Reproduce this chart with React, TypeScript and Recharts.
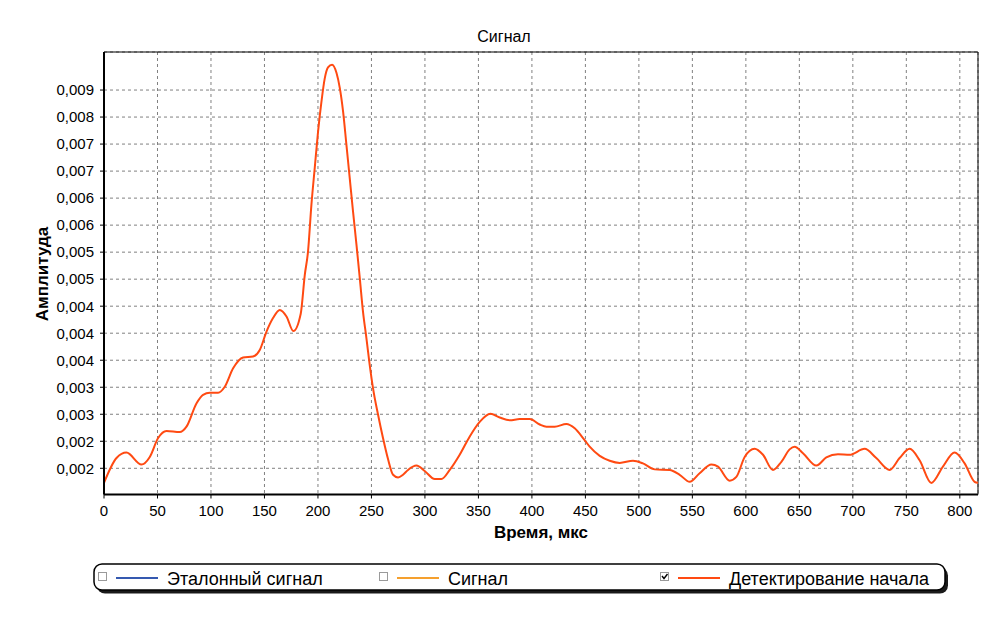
import React from 'react';
import { LineChart, Line, XAxis, YAxis, CartesianGrid, ReferenceArea, Legend } from 'recharts';

// ---- data (time, µs) ----
const times = [
  0, 11.7, 21, 35, 42.8, 50.6, 58.4, 70.8, 77.1, 86.4, 92.6, 98.9, 106.6, 112.9, 120.7, 130, 139.3, 145.6,
  151.9, 158, 164.3, 170.6, 177, 183.9, 187.7, 190.7, 193.9, 197, 200.1, 203.3, 206.4, 209.4, 213.2, 217.3,
  220.4, 223.5, 226.6, 229.7, 232.8, 236, 239.1, 242.1, 245.3, 248.4, 251.5, 256.2, 260.8, 265.5, 270.2,
  274.9, 279.5, 284.2, 292.1, 299.8, 309.2, 315.4, 323.2, 332.5, 341.9, 351.2, 361.2, 369.9, 379.3, 388.6,
  398, 407.3, 413.6, 421.3, 432.2, 440, 447.8, 454, 463.4, 472.7, 482.1, 494.5, 503.8, 514.8, 528.8, 538.1,
  547.5, 556.8, 567.8, 574, 584.9, 591.1, 598.9, 608.2, 616, 625.3, 633.2, 640.9, 645.6, 653.4, 665.9, 675.2,
  686.1, 697, 711, 721.9, 734.4, 743.7, 753.1, 762.4, 773.4, 784.2, 795.1, 804.5, 813.8, 817,
];

// ---- data (amplitude, "Детектирование начала") ----
const detection = [
  0.00143, 0.00189, 0.00199, 0.00177, 0.00191, 0.00226, 0.00239, 0.00237, 0.00247, 0.0029, 0.00306, 0.0031,
  0.0031, 0.00321, 0.00355, 0.00375, 0.00377, 0.00389, 0.00423, 0.00448, 0.00463, 0.00451, 0.00424, 0.00456,
  0.00528, 0.00571, 0.00658, 0.00726, 0.00793, 0.00849, 0.00892, 0.00912, 0.00917, 0.00902, 0.00874, 0.0083,
  0.00769, 0.00707, 0.00645, 0.00584, 0.00522, 0.0046, 0.00411, 0.00361, 0.00318, 0.00269, 0.00226, 0.00187,
  0.00158, 0.00153, 0.00158, 0.00167, 0.00175, 0.00165, 0.0015, 0.0015, 0.00167, 0.00195, 0.00229, 0.00256,
  0.00271, 0.00264, 0.00259, 0.00261, 0.00261, 0.00251, 0.00247, 0.00247, 0.00252, 0.00244, 0.00226, 0.0021,
  0.00193, 0.00184, 0.0018, 0.00184, 0.00179, 0.00168, 0.00167, 0.00158, 0.00145, 0.00161, 0.00177, 0.00173,
  0.00147, 0.00154, 0.00191, 0.00206, 0.00195, 0.00167, 0.00182, 0.00205, 0.0021, 0.00198, 0.00175, 0.0019,
  0.00196, 0.00195, 0.00206, 0.00189, 0.00167, 0.00189, 0.00206, 0.00185, 0.00143, 0.00173, 0.00199, 0.00179,
  0.00145, 0.00143,
];

// ---- axes ----
const xTicks = [0, 50, 100, 150, 200, 250, 300, 350, 400, 450, 500, 550, 600, 650, 700, 750, 800];
const xDomain = [0, 817];
const yTicks = [
  0.0017, 0.0022, 0.0027, 0.0032, 0.0037, 0.0042, 0.0047, 0.0052, 0.0057, 0.0062, 0.0067, 0.0072, 0.0077,
  0.0082, 0.0087,
];
const yTickLabels = [
  '0,002', '0,002', '0,003', '0,003', '0,004', '0,004', '0,004', '0,005', '0,005', '0,006', '0,006', '0,007',
  '0,007', '0,008', '0,009',
];
const yDomain = [0.001215, 0.009404];

// ---- texts ----
const chartTitle = 'Сигнал';
const xTitle = 'Время, мкс';
const yTitle = 'Амплитуда';

// ---- legend ----
const legendNames = ['Эталонный сигнал', 'Сигнал', 'Детектирование начала'];
const legendColors = ['#3559B0', '#F5A02E', '#FF4A12'];
const legendChecked = [false, false, true];

const data = times.map((t, i) => ({ t, detect: detection[i] }));

// minor ticks (4 subdivisions per major step, TeeChart style)
const xMinor: number[] = [];
for (let v = 0; v <= xDomain[1]; v += 12.5) xMinor.push(v);
const yMinor: number[] = [];
for (let v = yTicks[0] - 0.0005; v <= yDomain[1]; v += 0.000125) {
  if (v >= yDomain[0]) yMinor.push(v);
}

const FONT = '"Liberation Sans", Arial, sans-serif';

const LegendBox = () => {
  const itemOffsets = [0, 281, 562];
  return (
    <svg width={870} height={40} style={{ display: 'block', fontFamily: FONT }}>
      <rect x={4} y={4.5} width={851} height={26} rx={8} ry={8} fill="#1a1a1a" />
      <rect x={1} y={1} width={851} height={26} rx={8} ry={8} fill="#ffffff" stroke="#000" strokeWidth={1.5} />
      {legendNames.map((name, i) => {
        const ox = 1 + itemOffsets[i];
        return (
          <g key={name}>
            <rect x={ox + 4.5} y={9.5} width={8} height={8} fill="#fff" stroke="#9a9a9a" strokeWidth={1} />
            {legendChecked[i] && (
              <polyline
                points={`${ox + 6},${13} ${ox + 8},${15.5} ${ox + 11.5},${11}`}
                fill="none"
                stroke="#000"
                strokeWidth={1.4}
              />
            )}
            <line x1={ox + 22} x2={ox + 64} y1={15} y2={15} stroke={legendColors[i]} strokeWidth={2} />
            <text x={ox + 73} y={22} fontSize={18} fill="#000">
              {name}
            </text>
          </g>
        );
      })}
    </svg>
  );
};

export default function App() {
  return (
    <div
      style={{
        position: 'absolute',
        left: 0,
        top: 0,
        width: 1007,
        height: 619,
        background: '#fff',
        fontFamily: FONT,
      }}
    >
      <LineChart width={1007} height={619} data={data} margin={{ top: 52, right: 29, bottom: 74.5, left: 0 }}>
        <CartesianGrid stroke="#808080" strokeDasharray="3 3" />
        <XAxis
          dataKey="t"
          type="number"
          domain={xDomain}
          ticks={xTicks}
          interval={0}
          allowDataOverflow
          height={50}
          tickSize={4}
          tickMargin={7}
          axisLine={{ stroke: '#000', strokeWidth: 2 }}
          tickLine={{ stroke: '#000' }}
          tick={{ fill: '#000', fontSize: 15 }}
        />
        <XAxis
          xAxisId="minor"
          dataKey="t"
          type="number"
          domain={xDomain}
          ticks={xMinor}
          interval={0}
          allowDataOverflow
          mirror
          height={0}
          tick={false}
          tickSize={-3}
          axisLine={false}
          tickLine={{ stroke: '#000' }}
        />
        <YAxis
          type="number"
          domain={yDomain}
          ticks={yTicks}
          interval={0}
          allowDataOverflow
          width={104}
          tickSize={4}
          tickMargin={6}
          tickFormatter={(v: number, i: number) => yTickLabels[i]}
          axisLine={{ stroke: '#000', strokeWidth: 2 }}
          tickLine={{ stroke: '#000' }}
          tick={{ fill: '#000', fontSize: 15 }}
        />
        <YAxis
          yAxisId="minor"
          type="number"
          domain={yDomain}
          ticks={yMinor}
          interval={0}
          allowDataOverflow
          mirror
          width={0}
          tick={false}
          tickSize={-3}
          axisLine={false}
          tickLine={{ stroke: '#000' }}
        />
        <ReferenceArea
          x1={xDomain[0]}
          x2={xDomain[1]}
          y1={yDomain[0]}
          y2={yDomain[1]}
          fill="none"
          fillOpacity={0}
          stroke="#000"
          strokeWidth={1}
        />
        <Line
          type="monotone"
          dataKey="detect"
          name={legendNames[2]}
          stroke={legendColors[2]}
          strokeWidth={2}
          dot={false}
          activeDot={false}
          isAnimationActive={false}
        />
        <Legend
          layout="horizontal"
          verticalAlign="middle"
          align="center"
          content={() => <LegendBox />}
          wrapperStyle={{ position: 'absolute', left: 93, top: 563, width: 870, height: 40 }}
        />
        <text x={504} y={41.7} textAnchor="middle" fontSize={16} fill="#000">
          {chartTitle}
        </text>
        <text x={541} y={538} textAnchor="middle" fontSize={17} fontWeight="bold" fill="#000">
          {xTitle}
        </text>
        <text
          x={0}
          y={0}
          transform="translate(48,274) rotate(-90)"
          textAnchor="middle"
          fontSize={17}
          fontWeight="bold"
          fill="#000"
        >
          {yTitle}
        </text>
      </LineChart>
    </div>
  );
}
